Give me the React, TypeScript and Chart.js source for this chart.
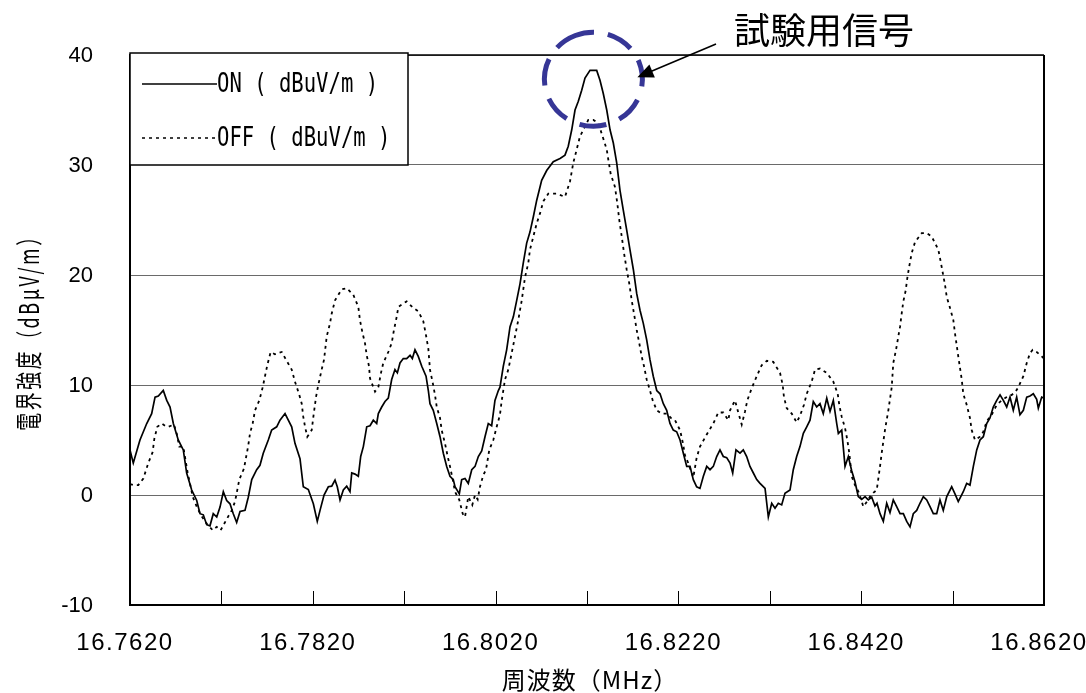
import React, { useEffect, useRef } from "react";
import { Chart, registerables } from "chart.js";

Chart.register(...registerables);

// Field strength with the test transmitter switched ON (dBuV/m)
const onFreq = [
  16.762, 16.76236, 16.76309, 16.76383, 16.76437, 16.76474, 16.7651, 16.76564, 16.76602, 16.76638,
  16.76674, 16.76728, 16.76783, 16.7682, 16.76875, 16.7693, 16.76966, 16.77002, 16.77039, 16.77075,
  16.77111, 16.77149, 16.77185, 16.77221, 16.77258, 16.77294, 16.7733, 16.77367, 16.77404, 16.77458,
  16.77494, 16.77532, 16.77586, 16.77622, 16.77658, 16.77713, 16.7775, 16.77805, 16.77841, 16.77896,
  16.77932, 16.77969, 16.78005, 16.7806, 16.78096, 16.78151, 16.78206, 16.78249, 16.78279, 16.78323,
  16.7837, 16.78407, 16.78443, 16.78468, 16.78498, 16.78534, 16.78571, 16.78607, 16.78626, 16.78662,
  16.78698, 16.78724, 16.78753, 16.7879, 16.78826, 16.78862, 16.78899, 16.78917, 16.78954, 16.7899,
  16.79026, 16.79063, 16.79099, 16.79125, 16.79154, 16.7919, 16.79227, 16.79264, 16.79289, 16.79318,
  16.79354, 16.79392, 16.79439, 16.79464, 16.79482, 16.79518, 16.79556, 16.79592, 16.79628, 16.79665,
  16.79701, 16.79737, 16.79756, 16.79803, 16.79829, 16.79865, 16.79901, 16.79939, 16.79975, 16.80011,
  16.80048, 16.80084, 16.8012, 16.80157, 16.80193, 16.8023, 16.80248, 16.80284, 16.80321, 16.80358,
  16.80394, 16.80431, 16.80467, 16.80503, 16.8054, 16.80576, 16.80613, 16.8065, 16.80704, 16.80759,
  16.80831, 16.80905, 16.80959, 16.80995, 16.81033, 16.81069, 16.81105, 16.81142, 16.81178, 16.81233,
  16.81306, 16.81342, 16.81378, 16.81416, 16.81452, 16.81488, 16.81525, 16.81561, 16.81597, 16.81634,
  16.8167, 16.81707, 16.81744, 16.8178, 16.81816, 16.81853, 16.81889, 16.81925, 16.81963, 16.81999,
  16.82035, 16.82072, 16.82108, 16.82144, 16.82181, 16.82218, 16.82254, 16.82291, 16.82327, 16.82363,
  16.824, 16.82436, 16.82473, 16.8251, 16.82546, 16.82582, 16.82619, 16.82655, 16.82691, 16.82728,
  16.82765, 16.82794, 16.8283, 16.82874, 16.8291, 16.82947, 16.82983, 16.8302, 16.83057, 16.83093,
  16.83148, 16.83184, 16.83221, 16.83257, 16.83293, 16.8333, 16.83366, 16.83421, 16.83457, 16.83494,
  16.8353, 16.83567, 16.83604, 16.8364, 16.83676, 16.83713, 16.83749, 16.83785, 16.83823, 16.83859,
  16.83895, 16.83932, 16.8395, 16.83987, 16.84023, 16.84059, 16.84096, 16.84132, 16.84168, 16.84205,
  16.84242, 16.84278, 16.84315, 16.84351, 16.84373, 16.84406, 16.84442, 16.84479, 16.84515, 16.84551,
  16.84588, 16.84625, 16.84661, 16.84698, 16.84734, 16.8477, 16.84807, 16.84843, 16.8488, 16.84917,
  16.84953, 16.84989, 16.85026, 16.85062, 16.85098, 16.85136, 16.8519, 16.85226, 16.85262, 16.85317,
  16.85354, 16.8539, 16.85427, 16.85464, 16.855, 16.85536, 16.85573, 16.85609, 16.85645, 16.85683,
  16.85719, 16.85755, 16.85792, 16.85828, 16.85864, 16.85901, 16.85937, 16.85974, 16.86011, 16.86047,
  16.86083, 16.8612, 16.86138, 16.86175, 16.862,
];
const onLevel = [
  4.1, 2.9, 5.0, 6.5, 7.4, 8.9, 9.0, 9.5, 8.6, 8.0,
  6.5, 5.0, 4.1, 2.0, 0.45, -0.5, -1.7, -1.8, -2.7, -2.8,
  -1.7, -2.0, -1.1, 0.3, -0.5, -0.8, -1.7, -2.5, -1.5, -1.4,
  -0.2, 1.4, 2.3, 2.7, 3.8, 5.0, 5.9, 6.2, 6.8, 7.4,
  6.8, 6.2, 4.7, 3.3, 0.75, 0.5, -0.8, -2.4, -1.4, 0,
  0.75, 0.8, 1.36, 0.75, -0.45, 0.45, 0.8, 0.3, 2.0, 1.9,
  1.7, 3.5, 4.4, 6.2, 6.3, 6.8, 6.5, 7.4, 8.0, 8.5,
  8.8, 10.5, 11.4, 11.1, 12.0, 12.4, 12.4, 12.7, 12.4, 13.2,
  12.6, 11.7, 10.8, 9.5, 8.3, 7.7, 6.5, 5.3, 3.8, 2.6,
  1.7, 1.4, 0.75, 0.1, 1.4, 1.5, 1.06, 2.3, 2.6, 3.5,
  4.0, 5.3, 6.5, 6.3, 8.6, 9.5, 9.8, 11.7, 13.2, 15.3,
  16.2, 17.7, 19.2, 21.1, 22.9, 23.9, 25.3, 26.8, 28.6, 29.5,
  30.3, 30.6, 30.9, 31.7, 33.2, 35.0, 35.8, 36.8, 37.9, 38.6,
  38.6, 37.7, 36.5, 35.0, 33.2, 32.0, 30.2, 27.7, 25.9, 24.1,
  22.3, 20.5, 18.3, 16.8, 15.6, 14.1, 12.3, 10.8, 9.5, 9.2,
  8.3, 7.7, 6.5, 5.9, 5.75, 5.0, 3.8, 2.6, 2.6, 1.4,
  0.75, 0.6, 1.7, 2.6, 2.3, 2.6, 3.5, 4.1, 3.5, 3.4,
  2.9, 2.0, 4.1, 3.8, 4.1, 3.5, 2.6, 2.0, 1.4, 1.06,
  0.6, -2.0, -0.75, -1.2, -0.75, -0.9, 0.15, 0.45, 2.3, 3.5,
  4.4, 5.6, 6.2, 6.8, 8.5, 8.0, 8.3, 7.4, 8.8, 7.6,
  8.6, 6.5, 5.6, 5.9, 2.6, 3.5, 2.2, 1.2, -0.15, -0.4,
  -0.15, -0.45, -0.2, -1.0, -0.75, -1.7, -2.4, -0.75, -1.6, -0.45,
  -1.06, -1.7, -1.7, -2.4, -2.9, -1.7, -1.4, -0.75, -0.15, -0.45,
  -1.06, -1.7, -1.7, -0.45, -1.4, -0.15, 0.75, 0.1, -0.6, 0.3,
  1.06, 0.9, 2.6, 4.1, 5.0, 5.3, 6.5, 7.0, 8.0, 8.6,
  9.1, 8.6, 8.0, 8.9, 7.7, 8.9, 7.3, 7.7, 8.9, 9.0,
  9.2, 8.7, 7.9, 8.9, 8.8,
];

// Field strength with the test transmitter switched OFF (dBuV/m)
const offFreq = [
  16.762, 16.76236, 16.76291, 16.76346, 16.764, 16.76448, 16.76466, 16.76499, 16.76547, 16.76583,
  16.76619, 16.76681, 16.76711, 16.76739, 16.76783, 16.76831, 16.76856, 16.76886, 16.7693, 16.76974,
  16.77039, 16.77105, 16.77149, 16.77192, 16.77258, 16.77313, 16.77349, 16.77396, 16.77447, 16.77494,
  16.77513, 16.77542, 16.77568, 16.77615, 16.77652, 16.77677, 16.77702, 16.77739, 16.77786, 16.7786,
  16.77907, 16.77969, 16.78005, 16.78049, 16.78079, 16.78096, 16.78115, 16.7814, 16.78188, 16.78206,
  16.78235, 16.7826, 16.78297, 16.78323, 16.78352, 16.78388, 16.78407, 16.78443, 16.78516, 16.78571,
  16.78643, 16.78698, 16.78716, 16.78742, 16.78771, 16.7879, 16.78815, 16.78826, 16.78881, 16.78917,
  16.78946, 16.78971, 16.79026, 16.79063, 16.79088, 16.79118, 16.79136, 16.79227, 16.793, 16.79354,
  16.79409, 16.79439, 16.79464, 16.79482, 16.79512, 16.79537, 16.79556, 16.79592, 16.7961, 16.79646,
  16.79676, 16.79701, 16.79731, 16.79756, 16.79803, 16.7984, 16.79865, 16.79901, 16.79945, 16.79975,
  16.80004, 16.80029, 16.80065, 16.80095, 16.80131, 16.80175, 16.80212, 16.80248, 16.80267, 16.80303,
  16.80339, 16.80376, 16.80412, 16.80448, 16.80486, 16.80522, 16.80558, 16.80576, 16.80613, 16.8065,
  16.80686, 16.80722, 16.80777, 16.80869, 16.80959, 16.81014, 16.8105, 16.81087, 16.81123, 16.8116,
  16.81214, 16.81269, 16.81324, 16.81378, 16.81416, 16.81433, 16.81459, 16.81506, 16.81532, 16.81553,
  16.8158, 16.81605, 16.81634, 16.81663, 16.81689, 16.81714, 16.81744, 16.81772, 16.81798, 16.81824,
  16.81853, 16.81889, 16.81919, 16.81963, 16.82017, 16.82072, 16.82119, 16.82163, 16.82218, 16.8225,
  16.82272, 16.82308, 16.82363, 16.824, 16.82436, 16.8251, 16.82582, 16.82637, 16.82691, 16.82746,
  16.82765, 16.82819, 16.82855, 16.82893, 16.82929, 16.82954, 16.83002, 16.83057, 16.83111, 16.83169,
  16.83238, 16.83312, 16.83341, 16.83355, 16.83385, 16.8344, 16.83494, 16.8353, 16.83574, 16.83604,
  16.83658, 16.83695, 16.83749, 16.83823, 16.83895, 16.83943, 16.8396, 16.83987, 16.84023, 16.84048,
  16.8407, 16.84096, 16.84132, 16.84179, 16.84223, 16.84263, 16.84296, 16.84332, 16.8437, 16.84406,
  16.84424, 16.8446, 16.84497, 16.84534, 16.84551, 16.84581, 16.84606, 16.84625, 16.84643, 16.84661,
  16.84687, 16.84704, 16.84726, 16.84753, 16.84789, 16.84862, 16.84917, 16.84971, 16.85044, 16.8507,
  16.85117, 16.85136, 16.85172, 16.85208, 16.85226, 16.85245, 16.85262, 16.853, 16.85317, 16.85354,
  16.8539, 16.85409, 16.85445, 16.855, 16.85536, 16.85573, 16.85628, 16.85683, 16.85737, 16.85792,
  16.85847, 16.8589, 16.85919, 16.85974, 16.86011, 16.86047, 16.86076, 16.8612, 16.86175, 16.862,
];
const offLevel = [
  1.0, 0.9, 0.9, 1.5, 2.9, 3.9, 5.1, 6.2, 6.5, 6.3,
  6.2, 6.4, 5.6, 4.4, 4.4, 2.0, 1.06, -0.15, -1.06, -1.8,
  -2.6, -3.2, -2.9, -3.2, -2.2, -1.4, -0.6, 1.4, 2.4, 4.5,
  5.6, 6.5, 7.7, 8.6, 9.8, 10.8, 11.8, 13.0, 12.8, 13.0,
  12.3, 11.4, 10.3, 9.2, 8.3, 7.1, 6.2, 5.3, 5.9, 7.1,
  8.9, 10.0, 11.4, 12.3, 14.4, 15.6, 16.5, 17.7, 18.7, 18.8,
  18.2, 17.1, 15.9, 14.8, 13.8, 12.7, 11.7, 10.6, 9.4, 9.8,
  11.1, 12.0, 13.0, 13.8, 15.0, 16.2, 17.1, 17.6, 17.0, 16.7,
  15.8, 14.5, 13.3, 11.4, 10.2, 9.1, 8.0, 7.0, 5.9, 4.7,
  3.5, 2.6, 1.4, 0.3, -0.45, -1.7, -2.0, -0.15, -0.9, 0,
  -0.4, 0.75, 1.8, 2.3, 4.1, 5.0, 6.2, 7.3, 8.6, 10.5,
  11.4, 12.9, 14.4, 15.9, 17.7, 19.8, 21.1, 22.3, 23.5, 24.7,
  25.6, 26.7, 27.4, 27.4, 27.1, 28.5, 30.2, 31.4, 32.6, 33.2,
  34.1, 34.1, 33.8, 32.4, 31.4, 30.5, 29.2, 28.0, 26.5, 25.0,
  23.5, 22.0, 20.5, 19.2, 17.7, 16.5, 15.0, 13.8, 12.6, 11.7,
  10.5, 9.5, 8.6, 7.7, 7.4, 7.4, 7.0, 6.8, 5.9, 4.7,
  3.6, 2.9, 1.6, 3.4, 4.4, 5.5, 6.5, 7.5, 7.5, 6.8,
  7.7, 8.6, 7.5, 6.4, 7.6, 8.6, 9.7, 10.8, 11.8, 12.2,
  12.1, 11.1, 10.0, 8.9, 7.9, 7.4, 6.6, 7.2, 8.2, 9.2,
  10.3, 11.4, 11.5, 11.1, 10.3, 9.2, 8.2, 7.1, 6.1, 5.0,
  3.8, 1.7, 0.9, 0.15, -1.06, -0.6, -0.15, 0.2, 0.45, 2.6,
  3.8, 5.9, 7.7, 9.8, 12.0, 13.2, 14.4, 15.3, 16.5, 17.6,
  18.6, 19.7, 20.8, 22.0, 23.0, 23.8, 23.8, 23.5, 22.3, 21.2,
  19.1, 18.0, 17.0, 15.9, 14.7, 13.6, 12.6, 10.5, 9.2, 8.2,
  7.0, 5.9, 5.0, 5.3, 5.75, 6.7, 7.3, 8.2, 8.6, 8.9,
  9.1, 9.4, 9.8, 10.8, 12.0, 12.9, 13.2, 13.0, 12.6, 12.4,
];

// Axis ticks
const xTickValues = [16.762, 16.772, 16.782, 16.792, 16.802, 16.812, 16.822, 16.832, 16.842, 16.852, 16.862];
const xTickLabels = ["16.7620", "", "16.7820", "", "16.8020", "", "16.8220", "", "16.8420", "", "16.8620"];
const yTickValues = [-10, 0, 10, 20, 30, 40];
const yTickLabels = ["-10", "0", "10", "20", "30", "40"];

// Text
const seriesNames = ["ON ( dBuV/m )", "OFF ( dBuV/m )"];
const xTitle = "周波数（MHz）";
const yTitle = "電界強度（dBμV/m）";
const calloutText = "試験用信号";
const calloutFreq = 16.8127;
const calloutLevel = 37.8;

const toPoints = (xs: number[], ys: number[]) =>
  xs.slice(0, Math.min(xs.length, ys.length)).map((x, i) => ({ x, y: ys[i] }));

function stretchedText(
  ctx: CanvasRenderingContext2D,
  text: string,
  x: number,
  y: number,
  sx: number,
  sy: number,
  rotate = 0
) {
  ctx.save();
  ctx.translate(x, y);
  if (rotate) ctx.rotate(rotate);
  ctx.scale(sx, sy);
  ctx.fillText(text, 0, 0);
  ctx.restore();
}

const decorations = {
  id: "decorations",
  afterDraw(chart: any) {
    const { ctx, chartArea: a, scales } = chart;
    const xs = scales.x;
    const ys = scales.y;
    ctx.save();
    ctx.fillStyle = "#000";
    ctx.strokeStyle = "#000";

    // plot frame
    ctx.lineWidth = 1.5;
    ctx.beginPath();
    ctx.moveTo(a.left, a.top);
    ctx.lineTo(a.right, a.top);
    ctx.stroke();
    ctx.lineWidth = 2;
    ctx.beginPath();
    ctx.moveTo(a.right, a.top);
    ctx.lineTo(a.right, a.bottom);
    ctx.moveTo(a.left, a.top - 1);
    ctx.lineTo(a.left, a.bottom);
    ctx.lineTo(a.right + 1, a.bottom);
    ctx.stroke();

    // inward ticks on the frequency axis
    ctx.lineWidth = 1;
    ctx.beginPath();
    xTickValues.forEach((v) => {
      const px = Math.round(xs.getPixelForValue(v)) + 0.5;
      ctx.moveTo(px, a.bottom);
      ctx.lineTo(px, a.bottom - 14);
    });
    ctx.stroke();

    // frequency labels
    ctx.font = '24px "Liberation Sans", Arial, sans-serif';
    (ctx as any).letterSpacing = "1.5px";
    ctx.textAlign = "center";
    ctx.textBaseline = "middle";
    xTickValues.forEach((v, i) => {
      if (!xTickLabels[i]) return;
      ctx.fillText(xTickLabels[i], xs.getPixelForValue(v) - 5, 643);
    });
    (ctx as any).letterSpacing = "0px";

    // level labels
    ctx.font = '22px "Liberation Sans", Arial, sans-serif';
    ctx.textAlign = "right";
    yTickValues.forEach((v, i) => {
      ctx.fillText(yTickLabels[i], 93, ys.getPixelForValue(v) + 1);
    });

    // axis titles
    ctx.textAlign = "center";
    ctx.font = '24px "Noto Sans CJK JP", sans-serif';
    (ctx as any).letterSpacing = "1px";
    ctx.fillText(xTitle, 590, 680);
    ctx.font = '27px "Noto Sans CJK JP", sans-serif';
    (ctx as any).letterSpacing = "4px";
    stretchedText(ctx, yTitle, 29, 328, 0.66, 1, -Math.PI / 2);
    (ctx as any).letterSpacing = "0px";

    // legend box
    const lx0 = a.left;
    const lx1 = 408;
    const ly0 = 53;
    const ly1 = 165;
    ctx.fillStyle = "#fff";
    ctx.fillRect(lx0, ly0, lx1 - lx0, ly1 - ly0);
    ctx.fillStyle = "#000";
    ctx.lineWidth = 1.5;
    ctx.strokeRect(lx0, ly0, lx1 - lx0, ly1 - ly0);
    ctx.lineWidth = 1.7;
    ctx.beginPath();
    ctx.moveTo(142, 84);
    ctx.lineTo(217, 84);
    ctx.stroke();
    ctx.setLineDash([3, 4]);
    ctx.beginPath();
    ctx.moveTo(142, 138);
    ctx.lineTo(217, 138);
    ctx.stroke();
    ctx.setLineDash([]);
    ctx.font = '21px "DejaVu Sans Mono", monospace';
    ctx.textAlign = "left";
    ctx.textBaseline = "middle";
    stretchedText(ctx, seriesNames[0], 217, 85, 0.98, 1.25);
    stretchedText(ctx, seriesNames[1], 217, 139, 0.98, 1.25);

    // callout around the test signal peak
    const cx = xs.getPixelForValue(calloutFreq);
    const cy = ys.getPixelForValue(calloutLevel);
    ctx.strokeStyle = "#363696";
    ctx.lineWidth = 5;
    ctx.setLineDash([27, 14]);
    ctx.lineDashOffset = 8;
    ctx.beginPath();
    ctx.ellipse(cx, cy, 49, 47, 0, -Math.PI * 0.62, Math.PI * 1.38);
    ctx.stroke();
    ctx.setLineDash([]);

    // arrow to the callout
    const tipX = cx + 44;
    const tipY = cy - 2;
    const tailX = 716;
    const tailY = 44;
    const ang = Math.atan2(tipY - tailY, tipX - tailX);
    ctx.strokeStyle = "#000";
    ctx.lineWidth = 1.6;
    ctx.beginPath();
    ctx.moveTo(tailX, tailY);
    ctx.lineTo(tipX - 12 * Math.cos(ang), tipY - 12 * Math.sin(ang));
    ctx.stroke();
    ctx.beginPath();
    ctx.moveTo(tipX, tipY);
    ctx.lineTo(tipX - 16 * Math.cos(ang) + 7 * Math.sin(ang), tipY - 16 * Math.sin(ang) - 7 * Math.cos(ang));
    ctx.lineTo(tipX - 16 * Math.cos(ang) - 7 * Math.sin(ang), tipY - 16 * Math.sin(ang) + 7 * Math.cos(ang));
    ctx.closePath();
    ctx.fill();

    ctx.font = '36px "Noto Sans CJK JP", sans-serif';
    ctx.textAlign = "center";
    ctx.textBaseline = "middle";
    ctx.fillText(calloutText, 824, 30);

    ctx.restore();
  },
};

export default function App() {
  const canvasRef = useRef<HTMLCanvasElement>(null);

  useEffect(() => {
    const canvas = canvasRef.current;
    if (!canvas) return;
    const chart = new Chart(canvas, {
      type: "line",
      data: {
        datasets: [
          {
            label: seriesNames[0],
            data: toPoints(onFreq, onLevel),
            borderColor: "#000",
            borderWidth: 1.7,
            pointRadius: 0,
            tension: 0,
            fill: false,
          },
          {
            label: seriesNames[1],
            data: toPoints(offFreq, offLevel),
            borderColor: "#000",
            borderWidth: 1.8,
            borderDash: [3, 4],
            borderCapStyle: "butt",
            pointRadius: 0,
            tension: 0,
            fill: false,
          },
        ],
      },
      options: {
        responsive: false,
        animation: false,
        events: [],
        layout: { padding: { left: 0, right: 42, top: 55, bottom: 0 } },
        plugins: {
          legend: { display: false },
          tooltip: { enabled: false },
          title: { display: false },
        },
        scales: {
          x: {
            type: "linear",
            min: xTickValues[0],
            max: xTickValues[xTickValues.length - 1],
            ticks: { display: false },
            grid: { display: false },
            border: { display: false },
            afterFit: (s: any) => {
              s.height = 88;
            },
          },
          y: {
            type: "linear",
            min: yTickValues[0],
            max: yTickValues[yTickValues.length - 1],
            ticks: { display: false, stepSize: 10 },
            grid: { color: "#6a6a6a", lineWidth: 1, drawTicks: false },
            border: { display: false },
            afterFit: (s: any) => {
              s.width = 130;
            },
          },
        },
      },
      plugins: [decorations],
    });
    return () => chart.destroy();
  }, []);

  return (
    <div style={{ position: "fixed", left: 0, top: 0, width: 1086, height: 693, background: "#fff" }}>
      <canvas ref={canvasRef} width={1086} height={693} style={{ display: "block" }} />
    </div>
  );
}
